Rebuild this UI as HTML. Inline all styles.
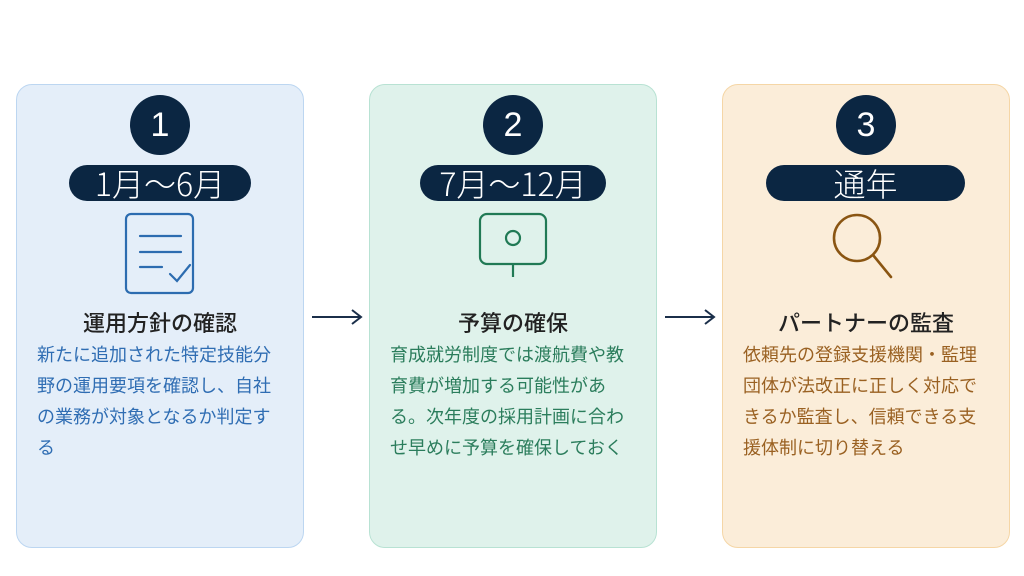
<!DOCTYPE html>
<html><head><meta charset="utf-8"><style>
body{margin:0;width:1024px;height:576px;background:#fff;position:relative;overflow:hidden;font-family:"Liberation Sans","Noto Sans CJK JP",sans-serif}
.card{position:absolute;top:84px;width:288px;height:464px;border-radius:16px;box-sizing:border-box;border:1px solid}
.c1{left:16px;background:#e4eef9;border-color:#bcd6f1}
.c2{left:369px;background:#dff2eb;border-color:#b8e2d3}
.c3{left:722px;background:#fbedd9;border-color:#f5d6a6}
.circ{position:absolute;top:95px;width:60px;height:60px;border-radius:50%;background:#0b2642;color:#fff;font-size:34px;line-height:60px;text-align:center;font-weight:300}
.pill{position:absolute;top:165px;height:36px;border-radius:18px;background:#0b2642;color:#fff;font-size:32px;line-height:36px;text-align:center;font-weight:300;font-family:"Noto Sans CJK JP",sans-serif}
.title{position:absolute;top:306px;width:288px;text-align:center;font-size:22px;font-weight:500;color:#222;font-family:"Noto Sans CJK JP",sans-serif;line-height:32px}
.body{position:absolute;top:340px;font-size:18px;line-height:31px;white-space:nowrap}
</style></head><body>
<div class="card c1"></div><div class="card c2"></div><div class="card c3"></div>
<div class="circ" style="left:130px">1</div>
<div class="circ" style="left:483px">2</div>
<div class="circ" style="left:836px">3</div>
<div class="pill" style="left:69px;width:182px">1月～6月</div>
<div class="pill" style="left:420px;width:186px">7月～12月</div>
<div class="pill" style="left:766px;width:199px">通年</div>
<svg style="position:absolute;left:0;top:0" width="1024" height="576">
<g fill="none" stroke="#2c6cb0" stroke-width="2.2" stroke-linecap="round">
<rect x="126" y="214" width="67" height="79" rx="5"/>
<line x1="140" y1="236" x2="181" y2="236"/><line x1="140" y1="252" x2="181" y2="252"/><line x1="140" y1="267" x2="162" y2="267"/>
<polyline points="170,274 177,281 190,265"/>
</g>
<g fill="none" stroke="#217a55" stroke-width="2.2">
<rect x="480" y="214" width="66" height="50" rx="7"/><circle cx="513" cy="238" r="7"/><line x1="513" y1="264" x2="513" y2="277"/>
</g>
<g fill="none" stroke="#8a5512" stroke-width="2.6" stroke-linecap="round">
<circle cx="857" cy="238" r="23"/><line x1="873" y1="255" x2="891" y2="277"/>
</g>
<g stroke="#1b2f4a" stroke-width="2" fill="none">
<line x1="312" y1="317" x2="360" y2="317"/><polyline points="352,310 361,317 352,324"/>
<line x1="665" y1="317" x2="713" y2="317"/><polyline points="705,310 714,317 705,324"/>
</g>
</svg>
<div class="title" style="left:16px">運用方針の確認</div>
<div class="title" style="left:369px">予算の確保</div>
<div class="title" style="left:722px">パートナーの監査</div>
<div class="body" style="left:37px;color:#2f6db3">新たに追加された特定技能分<br>野の運用要項を確認し、自社<br>の業務が対象となるか判定す<br>る</div>
<div class="body" style="left:390px;color:#2b7d5c">育成就労制度では渡航費や教<br>育費が増加する可能性があ<br>る。次年度の採用計画に合わ<br>せ早めに予算を確保しておく</div>
<div class="body" style="left:743px;color:#9a6122">依頼先の登録支援機関・監理<br>団体が法改正に正しく対応で<br>きるか監査し、信頼できる支<br>援体制に切り替える</div>
</body></html>
